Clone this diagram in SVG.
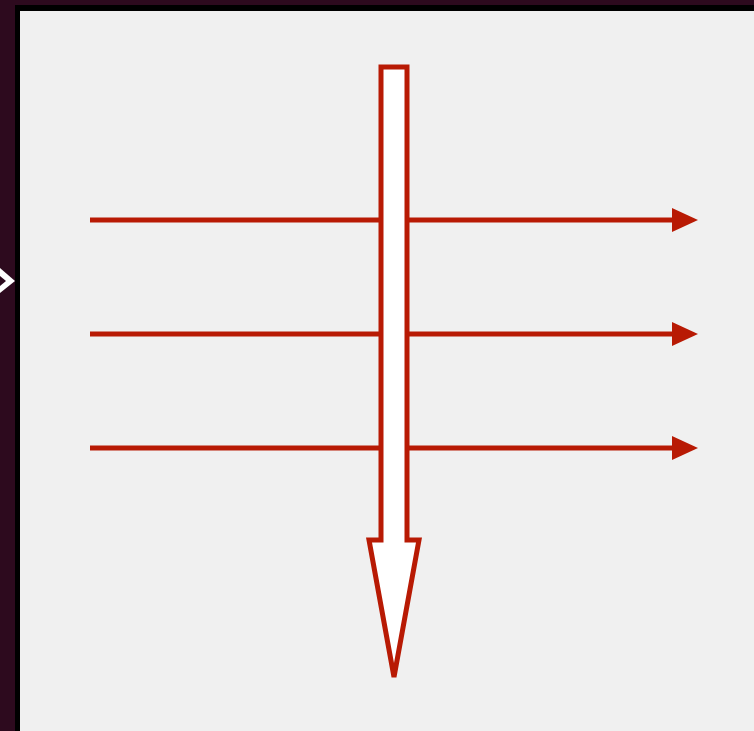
<svg xmlns="http://www.w3.org/2000/svg" width="754" height="731" viewBox="0 0 754 731">
<style>
.flow{stroke:#b81a04;stroke-width:5;fill:none}
.big{stroke:#b81a04;stroke-width:5;fill:#ffffff;stroke-linejoin:miter}
</style>
<defs>
<marker id="ah" markerUnits="userSpaceOnUse" markerWidth="26" markerHeight="26" refX="0" refY="13" orient="auto" viewBox="0 0 26 26">
<path d="M0,1 L26,13 L0,25 Z" fill="#b81a04"/>
</marker>
</defs>
<rect x="0" y="0" width="754" height="731" fill="#2d0a1e"/>
<rect x="15" y="5" width="745" height="730" fill="#000000"/>
<rect x="20" y="11" width="740" height="725" fill="#f0f0f0"/>
<g id="side-arrow">
<path d="M0,268 L15,281 L0,293 Z" fill="#ffffff"/>
<path d="M0,276 L6,281 L0,286 Z" fill="#2d0a1e"/>
</g>
<g id="connectors">
<line class="flow" x1="90" y1="220" x2="672" y2="220" marker-end="url(#ah)"/>
<line class="flow" x1="90" y1="334" x2="672" y2="334" marker-end="url(#ah)"/>
<line class="flow" x1="90" y1="448" x2="672" y2="448" marker-end="url(#ah)"/>
</g>
<g id="down-arrow">
<path class="big" d="M381,67 L407,67 L407,540 L419,540 L394,677 L369,540 L381,540 Z"/>
</g>
</svg>
